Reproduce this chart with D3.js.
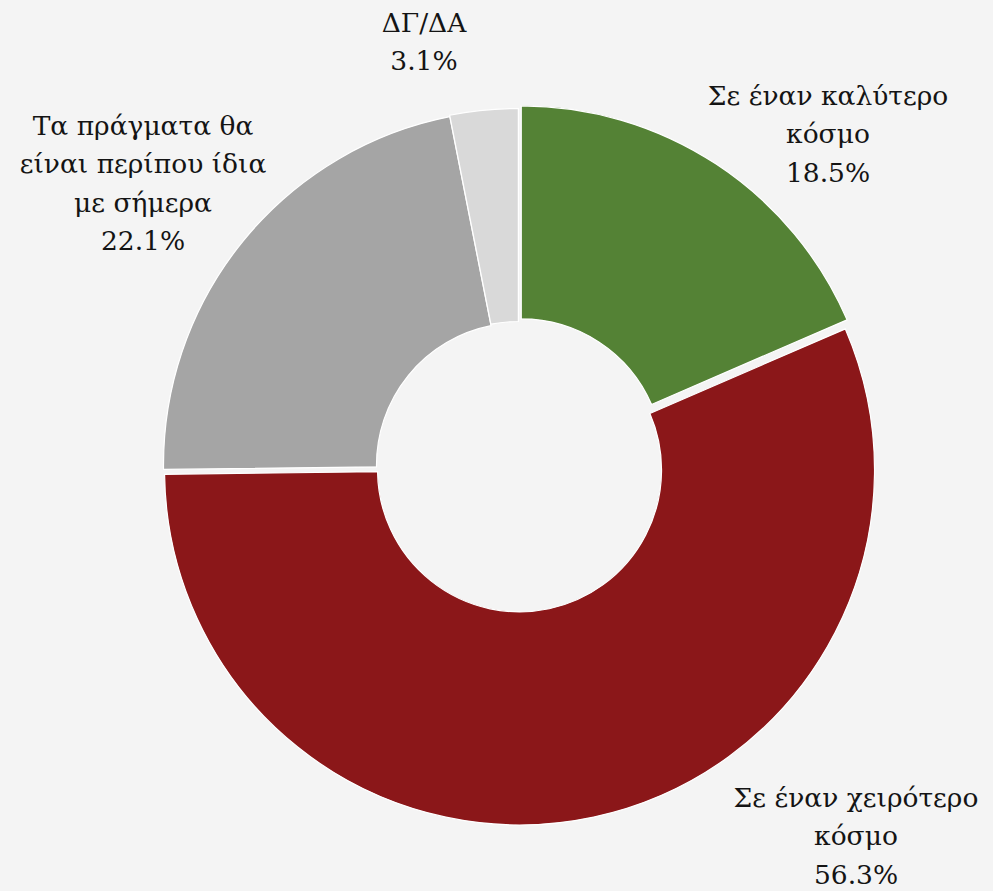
<!DOCTYPE html>
<html>
<head>
<meta charset="utf-8">
<script src="https://cdn.jsdelivr.net/npm/d3@7"></script>
<style>
  html, body { margin: 0; padding: 0; background: #f4f4f4; }
  svg { display: block; }
  text { font-family: "DejaVu Serif", "Liberation Serif", serif; fill: #141414; }
</style>
</head>
<body>
<div id="chart"></div>
<script>
// ---- data ----
const categories = [
  "Σε έναν καλύτερο κόσμο",
  "Σε έναν χειρότερο κόσμο",
  "Τα πράγματα θα είναι περίπου ίδια με σήμερα",
  "ΔΓ/ΔΑ"
];
const values = [18.5, 56.3, 22.1, 3.1];
const colors = ["#548235", "#8b1719", "#a5a5a5", "#d9d9d9"];
const labelLines = [
  ["Σε έναν καλύτερο", "κόσμο"],
  ["Σε έναν χειρότερο", "κόσμο"],
  ["Τα πράγματα θα", "είναι περίπου ίδια", "με σήμερα"],
  ["ΔΓ/ΔΑ"]
];

// ---- layout ----
const W = 993, H = 891;
const cx = 518.5, cy = 465;
const outerR = 355, innerR = 142;
const explode = [5, 5, 0, 1.5];
// label block anchors: center x, first baseline y
const labelAnchor = [[828, 105], [856, 807], [143, 135], [424, 32]];
const lineH = 38.3;

const svg = d3.select("#chart").append("svg")
  .attr("width", W).attr("height", H);

svg.append("rect").attr("width", W).attr("height", H).attr("fill", "#f4f4f4");

const pie = d3.pie().sort(null).value(d => d);
const arcs = pie(values);
const arc = d3.arc().innerRadius(innerR).outerRadius(outerR);

const g = svg.append("g").attr("transform", `translate(${cx},${cy})`);

g.selectAll("path").data(arcs).join("path")
  .attr("d", arc)
  .attr("fill", (d, i) => colors[i])
  .attr("stroke", "#ffffff")
  .attr("stroke-width", 1.2)
  .attr("transform", (d, i) => {
    const a = (d.startAngle + d.endAngle) / 2;
    return `translate(${Math.sin(a) * explode[i]},${-Math.cos(a) * explode[i]})`;
  });

const fmt = d3.format(".1f");
labelLines.forEach((lines, i) => {
  const all = lines.concat([fmt(values[i]) + "%"]);
  const t = svg.append("text")
    .attr("text-anchor", "middle")
    .attr("font-size", 26.5);
  all.forEach((s, j) => {
    t.append("tspan")
      .attr("x", labelAnchor[i][0])
      .attr("y", labelAnchor[i][1] + j * lineH)
      .text(s);
  });
});
</script>
</body>
</html>
